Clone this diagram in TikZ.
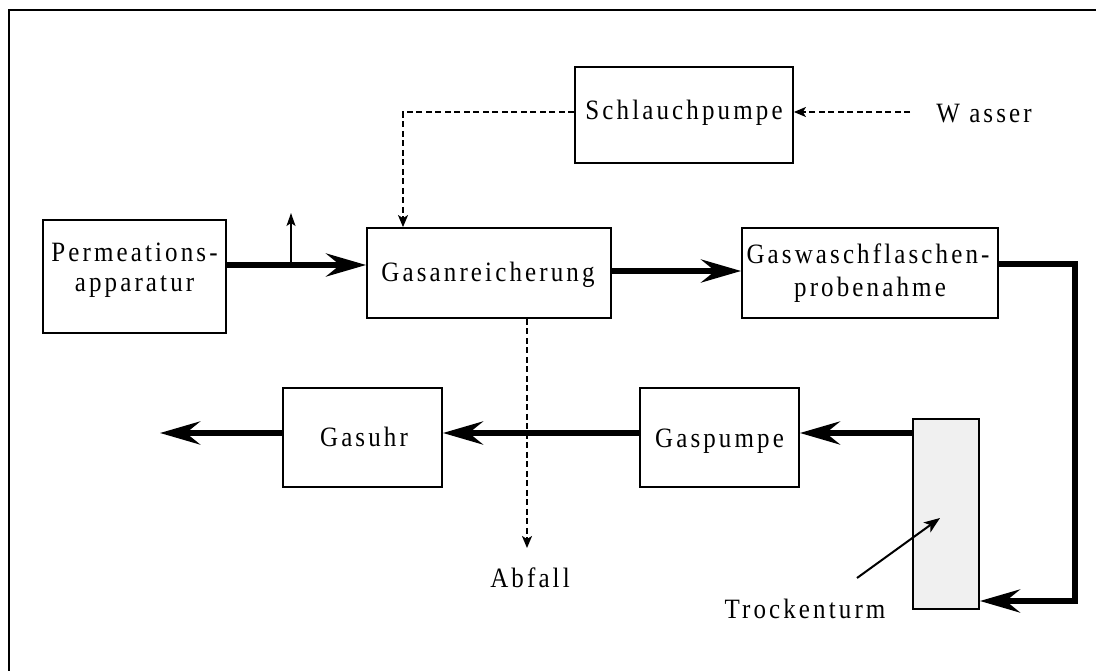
\documentclass[tikz,border=0pt]{standalone}
\usepackage{graphicx}
\usepackage{fontspec}
\setmainfont[LetterSpace=12.5]{Liberation Serif}
\usetikzlibrary{arrows.meta}
% tall, tracked serif lettering
\newcommand\tall[1]{\scalebox{1}[1.12]{#1}}
\begin{document}
\begin{tikzpicture}[x=1pt,y=-1pt,
  box/.style={draw, line width=1.8pt, inner sep=0pt},
  lbl/.style={font=\fontsize{25}{29}\selectfont, inner sep=0pt, anchor=base},
  flow/.style={line width=6pt, -{Stealth[length=40pt,width=23pt,inset=14pt]}},
  pipe/.style={line width=6pt},
  feed/.style={line width=1.6pt, dash pattern=on 6pt off 3.5pt, -{Stealth[length=12pt,width=10pt,inset=3pt]}},
  thinarrow/.style={line width=1.6pt, -{Stealth[length=13pt,width=9pt,inset=3pt]}}]
\useasboundingbox (0,0) rectangle (1096,671);
% frame: top and left edges only
\draw[line width=2pt] (9,671) -- (9,10) -- (1096,10);

% process units
\node[box, minimum width=183, minimum height=113] (perm) at (134.5,276.5) {};
\node[lbl] at (134.5,262) {\tall{Permeations-}};
\node[lbl] at (134.5,292) {\tall{apparatur}};
\node[box, minimum width=244, minimum height=90] (gasan) at (489,273) {};
\node[lbl] at (488,282) {\tall{Gasanreicherung}};
\node[box, minimum width=256, minimum height=90] (gasw) at (870,273) {};
\node[lbl] at (868,264) {\tall{Gaswaschflaschen-}};
\node[lbl] at (870,297) {\tall{probenahme}};
\node[box, minimum width=218, minimum height=96] (schl) at (684,115) {};
\node[lbl] at (684,120) {\tall{Schlauchpumpe}};
\node[box, minimum width=159, minimum height=99] (uhr) at (362.5,437.5) {};
\node[lbl] at (364,446) {\tall{Gasuhr}};
\node[box, minimum width=159, minimum height=99] (gpump) at (719.5,437.5) {};
\node[lbl] at (719.5,447) {\tall{Gaspumpe}};
\node[box, fill=black!6, minimum width=66, minimum height=190] (trock) at (946,514) {};

% free labels
\node[lbl] (wasser) at (984,123) {\tall{W asser}};
\node[lbl] (abfall) at (530,587) {\tall{Abfall}};
\node[lbl] (trlbl) at (805,618) {\tall{Trockenturm}};

% free ends
\coordinate (vent) at (291,213);
\coordinate (out) at (160,433);
\coordinate (wsrc) at (910,112);
\coordinate (drain) at (527,548);
\coordinate (tip) at (940,518);
\coordinate (tail) at (857,578);

% gas path
\draw[flow] (perm.east |- 0,265) -- (gasan.west |- 0,265);
\draw[thinarrow] (291,265) -- (vent);
\draw[flow] (gasan.east |- 0,271) -- (gasw.west |- 0,271);
\draw[pipe, -{Stealth[length=40pt,width=23pt,inset=14pt]}]
  (gasw.east |- 0,264) -- (1075,264) -- (1075,601) -- (trock.east |- 0,601);
\draw[flow] (trock.west |- 0,433) -- (gpump.east |- 0,433);
\draw[flow] (gpump.west |- 0,433) -- (uhr.east |- 0,433);
\draw[flow] (uhr.west |- 0,433) -- (out);

% water path
\draw[feed] (wsrc) -- (schl.east |- 0,112);
\draw[feed] (schl.west |- 0,112) -- (403,112) -- (gasan.north -| 403,0);
\draw[feed] (gasan.south -| 527,0) -- (drain);

% label pointer
\draw[line width=2pt, -{Stealth[length=16pt,width=12pt,inset=4pt]}] (tail) -- (tip);
\end{tikzpicture}
\end{document}
